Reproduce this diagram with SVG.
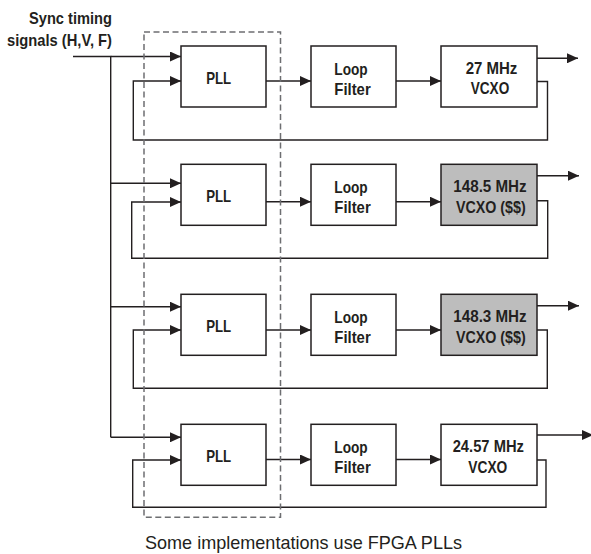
<svg xmlns="http://www.w3.org/2000/svg" width="591" height="554" viewBox="0 0 591 554">
<style>
.box{fill:#fff;stroke:#231f20;stroke-width:1.5}
.gray{fill:#bdbdbd}
.ln{fill:none;stroke:#231f20;stroke-width:1.4}
.arr{marker-end:url(#ah)}
.t{font-family:"Liberation Sans",Arial,sans-serif;font-weight:bold;font-size:17px;fill:#231f20;text-anchor:middle}
.dash{fill:none;stroke:#6d6e71;stroke-width:1.5;stroke-dasharray:6 3.5}
.cap{font-family:"Liberation Sans",Arial,sans-serif;font-size:19px;fill:#231f20}
</style>
<defs>
<marker id="ah" markerWidth="11" markerHeight="10" viewBox="0 0 11 10" refX="11" refY="5" orient="auto" markerUnits="userSpaceOnUse">
<path d="M0,0 L11,5 L0,10 z" fill="#231f20"/>
</marker>
</defs>
<rect width="591" height="554" fill="#fff"/>

<g id="connectors">
<!-- sync input -->
<path class="ln" d="M73,56.5 H110.7 V437.3"/>
<path class="ln arr" d="M110.7,56.5 H181"/>
<path class="ln arr" d="M110.7,183.3 H181"/>
<path class="ln arr" d="M110.7,306.7 H181"/>
<path class="ln arr" d="M110.7,437.3 H181"/>
<!-- row 1 -->
<path class="ln arr" d="M266,81 H311"/>
<path class="ln arr" d="M396,81 H441"/>
<path class="ln arr" d="M537,58.3 H578"/>
<path class="ln arr" d="M537,81.5 H547.5 V140 H133.3 V81 H181"/>
<!-- row 2 -->
<path class="ln arr" d="M266,201.7 H311"/>
<path class="ln arr" d="M396,201.7 H441"/>
<path class="ln arr" d="M537,175.7 H579"/>
<path class="ln arr" d="M537,200.7 H547.7 V258.3 H131.7 V202 H181"/>
<!-- row 3 -->
<path class="ln arr" d="M266,330 H311"/>
<path class="ln arr" d="M396,330 H441"/>
<path class="ln arr" d="M537,305.7 H579"/>
<path class="ln arr" d="M537,330 H547.3 V388.3 H133.3 V330 H181"/>
<!-- row 4 -->
<path class="ln arr" d="M266,459.5 H311"/>
<path class="ln arr" d="M396,459.5 H441"/>
<path class="ln arr" d="M537,435 H593"/>
<path class="ln arr" d="M537,460 H546 V507.3 H132.7 V460 H181"/>
</g>

<g id="fpga-boundary">
<rect class="dash" x="144" y="32" width="136.5" height="485.3"/>
</g>

<g id="sync-label">
<text class="t" x="112" y="24" style="text-anchor:end" textLength="83" lengthAdjust="spacingAndGlyphs">Sync timing</text>
<text class="t" x="112" y="45.5" style="text-anchor:end" textLength="105" lengthAdjust="spacingAndGlyphs">signals (H,V, F)</text>
</g>

<!-- row 1 -->
<g id="pll1"><rect class="box" x="181" y="46" width="85" height="61"/><text class="t" x="218.7" y="83.5" textLength="25" lengthAdjust="spacingAndGlyphs">PLL</text></g>
<g id="lf1"><rect class="box" x="311" y="46" width="85" height="61"/><text class="t" x="351" y="74.5" textLength="33.4" lengthAdjust="spacingAndGlyphs">Loop</text><text class="t" x="352.5" y="95" textLength="36.4" lengthAdjust="spacingAndGlyphs">Filter</text></g>
<g id="vcxo1"><rect class="box" x="441" y="46" width="96" height="61"/><text class="t" x="491.5" y="73.5" textLength="51.7" lengthAdjust="spacingAndGlyphs">27 MHz</text><text class="t" x="490" y="94" textLength="38.6" lengthAdjust="spacingAndGlyphs">VCXO</text></g>

<!-- row 2 -->
<g id="pll2"><rect class="box" x="181" y="164.3" width="85" height="61"/><text class="t" x="218.7" y="202.3" textLength="25" lengthAdjust="spacingAndGlyphs">PLL</text></g>
<g id="lf2"><rect class="box" x="311" y="164.3" width="85" height="61"/><text class="t" x="351" y="193.3" textLength="33.4" lengthAdjust="spacingAndGlyphs">Loop</text><text class="t" x="352.5" y="213.3" textLength="36.4" lengthAdjust="spacingAndGlyphs">Filter</text></g>
<g id="vcxo2"><rect class="box gray" x="441" y="164.3" width="96" height="61"/><text class="t" x="490" y="191.7" textLength="73.3" lengthAdjust="spacingAndGlyphs">148.5 MHz</text><text class="t" x="490.8" y="212.5" textLength="69.7" lengthAdjust="spacingAndGlyphs">VCXO ($$)</text></g>

<!-- row 3 -->
<g id="pll3"><rect class="box" x="181" y="294.3" width="85" height="61"/><text class="t" x="218.7" y="331.8" textLength="25" lengthAdjust="spacingAndGlyphs">PLL</text></g>
<g id="lf3"><rect class="box" x="311" y="294.3" width="85" height="61"/><text class="t" x="351" y="322.8" textLength="33.4" lengthAdjust="spacingAndGlyphs">Loop</text><text class="t" x="352.5" y="343.3" textLength="36.4" lengthAdjust="spacingAndGlyphs">Filter</text></g>
<g id="vcxo3"><rect class="box gray" x="441" y="294.3" width="96" height="61"/><text class="t" x="490" y="321.7" textLength="73.3" lengthAdjust="spacingAndGlyphs">148.3 MHz</text><text class="t" x="490.8" y="342.5" textLength="69.7" lengthAdjust="spacingAndGlyphs">VCXO ($$)</text></g>

<!-- row 4 -->
<g id="pll4"><rect class="box" x="181" y="424.3" width="85" height="61"/><text class="t" x="218.7" y="461.8" textLength="25" lengthAdjust="spacingAndGlyphs">PLL</text></g>
<g id="lf4"><rect class="box" x="311" y="424.3" width="85" height="61"/><text class="t" x="351" y="452.8" textLength="33.4" lengthAdjust="spacingAndGlyphs">Loop</text><text class="t" x="352.5" y="473.3" textLength="36.4" lengthAdjust="spacingAndGlyphs">Filter</text></g>
<g id="vcxo4"><rect class="box" x="441" y="424.3" width="96" height="61"/><text class="t" x="488.3" y="451.7" textLength="71.3" lengthAdjust="spacingAndGlyphs">24.57 MHz</text><text class="t" x="487.8" y="472.5" textLength="39" lengthAdjust="spacingAndGlyphs">VCXO</text></g>

<g id="caption">
<text class="cap" x="145" y="548.5" textLength="317" lengthAdjust="spacingAndGlyphs">Some implementations use FPGA PLLs</text>
</g>
</svg>
